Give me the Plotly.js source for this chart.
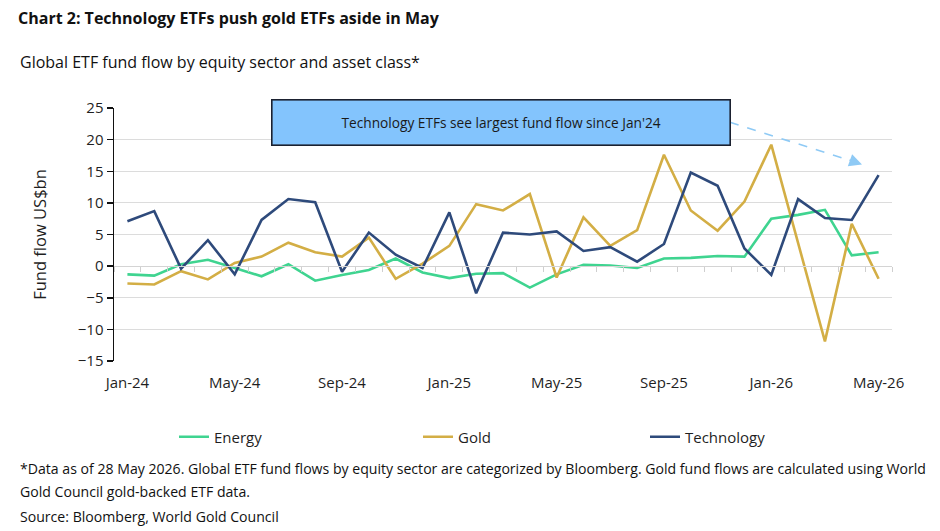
<!DOCTYPE html>
<html>
<head>
<meta charset="utf-8">
<script src="https://cdn.plot.ly/plotly-3.0.1.min.js"></script>
<style>html,body{margin:0;padding:0;background:#fff;}#chart{width:940px;height:531px;}</style>
</head>
<body>
<div id="chart"></div>
<script>
const months = ["Jan-24","Feb-24","Mar-24","Apr-24","May-24","Jun-24","Jul-24","Aug-24","Sep-24","Oct-24","Nov-24","Dec-24",
  "Jan-25","Feb-25","Mar-25","Apr-25","May-25","Jun-25","Jul-25","Aug-25","Sep-25","Oct-25","Nov-25","Dec-25",
  "Jan-26","Feb-26","Mar-26","Apr-26","May-26"];
const energy = [-1.3,-1.5,0.3,1.0,-0.3,-1.6,0.3,-2.3,-1.4,-0.6,1.2,-1.0,-1.9,-1.2,-1.1,-3.4,-1.3,0.2,0.1,-0.3,1.2,1.3,1.6,1.5,7.5,8.1,8.9,1.7,2.2];
const gold = [-2.75,-2.9,-0.8,-2.1,0.5,1.5,3.7,2.2,1.5,4.5,-2.0,0.4,3.2,9.8,8.8,11.4,-1.8,7.7,3.2,5.7,17.6,8.8,5.6,10.2,19.2,3.7,-11.9,6.7,-2.0];
const technology = [7.1,8.7,-0.4,4.1,-1.3,7.3,10.6,10.1,-0.9,5.3,1.8,-0.3,8.5,-4.3,5.3,5.0,5.5,2.4,3.0,0.7,3.5,14.8,12.7,2.8,-1.4,10.6,7.6,7.3,14.4];
const yTicks = [-15,-10,-5,0,5,10,15,20,25];
const xTickLabels = months.filter((m,i)=>i%4===0);

const yMin = -15, yMax = 25;
const FONT = "Open Sans, Noto Sans, sans-serif";
const TXT = "#1f1f1f";

const traces = [
  {x: months, y: energy, name: "Energy", type: "scatter", mode: "lines", line: {color: "#3fd490", width: 2.6}, legend: "legend"},
  {x: months, y: gold, name: "Gold", type: "scatter", mode: "lines", line: {color: "#d3ae45", width: 2.6}, legend: "legend2"},
  {x: months, y: technology, name: "Technology", type: "scatter", mode: "lines", line: {color: "#2e4a7b", width: 2.6}, legend: "legend3"},
  {x: months, y: energy, xaxis: "x2", type: "scatter", mode: "lines", line: {color: "rgba(0,0,0,0)", width: 0}, showlegend: false, hoverinfo: "skip"}
];

const px = v => (v - 114) / 778;
const py = v => (361 - v) / 253;

const legendBase = {
  orientation: "h", xanchor: "left", y: py(437), yanchor: "middle",
  font: {family: FONT, size: 15, color: TXT}, bgcolor: "rgba(0,0,0,0)"
};

const layout = {
  width: 940, height: 531,
  margin: {l: 114, r: 48, t: 108, b: 170},
  paper_bgcolor: "#fff", plot_bgcolor: "#fff",
  font: {family: FONT, color: TXT},
  showlegend: true,
  title: {
    text: "<b>Chart 2: Technology ETFs push gold ETFs aside in May</b>",
    font: {family: FONT, size: 16, color: "#111"},
    x: 18/940, xref: "container", xanchor: "left",
    y: 1 - 18/531, yref: "container", yanchor: "middle"
  },
  xaxis: {
    type: "category", range: [-0.5, months.length - 0.5],
    tickmode: "array", tickvals: xTickLabels, ticktext: xTickLabels,
    ticks: "outside", ticklen: 8, tickcolor: "rgba(0,0,0,0)",
    showgrid: false, showline: false, zeroline: false,
    tickfont: {family: FONT, size: 15, color: TXT}
  },
  xaxis2: {
    type: "category", overlaying: "x", anchor: "free",
    position: (0 - yMin) / (yMax - yMin),
    range: [-0.5, months.length - 0.5],
    showline: true, linecolor: "#d4d4d4", linewidth: 1,
    ticks: "outside", tickson: "boundaries", ticklen: 5, tickcolor: "#cfcfcf", tickwidth: 1,
    showticklabels: false, showgrid: false, zeroline: false
  },
  yaxis: {
    range: [yMin, yMax], tickmode: "array", tickvals: yTicks,
    showgrid: true, gridcolor: "#dcdcdc", gridwidth: 1, zeroline: false,
    showline: true, linecolor: "#111", linewidth: 1.5,
    ticks: "outside", ticklen: 6, tickcolor: "#111", tickwidth: 1.5,
    tickfont: {family: FONT, size: 15, color: TXT},
    title: {text: "Fund flow US$bn", font: {family: FONT, size: 16.5, color: TXT}, standoff: 27}
  },
  legend: Object.assign({}, legendBase, {x: px(174)}),
  legend2: Object.assign({}, legendBase, {x: px(418)}),
  legend3: Object.assign({}, legendBase, {x: px(645)}),
  shapes: [
    {type: "line", xref: "paper", yref: "paper", x0: px(730), y0: py(122.3), x1: px(855), y1: py(162),
     line: {color: "#8fcaf5", width: 1.6, dash: "dash"}}
  ],
  annotations: [
    {text: "Global ETF fund flow by equity sector and asset class*", xref: "paper", yref: "paper",
     x: px(18), y: py(62), xanchor: "left", yanchor: "middle", showarrow: false,
     font: {family: FONT, size: 16, color: "#111"}},
    {text: "Technology ETFs see largest fund flow since Jan'24", xref: "paper", yref: "paper",
     x: px(500.5), y: py(122), xanchor: "center", yanchor: "middle", showarrow: false,
     width: 457, height: 44, bgcolor: "#83c4fd", bordercolor: "#1b2130", borderwidth: 1.6, borderpad: 0,
     font: {family: FONT, size: 13.7, color: "#1a1a1a"}},
    {text: "", xref: "paper", yref: "paper", x: px(862), y: py(164.5), ax: -14, ay: -5,
     showarrow: true, arrowhead: 2, arrowsize: 1.6, arrowwidth: 1.6, arrowcolor: "#8fcaf5"},
    {text: "*Data as of 28 May 2026. Global ETF fund flows by equity sector are categorized by Bloomberg. Gold fund flows are calculated using World",
     xref: "paper", yref: "paper", x: px(18), y: py(468), xanchor: "left", yanchor: "middle", showarrow: false,
     font: {family: FONT, size: 14.1, color: "#111"}},
    {text: "Gold Council gold-backed ETF data.",
     xref: "paper", yref: "paper", x: px(18), y: py(491), xanchor: "left", yanchor: "middle", showarrow: false,
     font: {family: FONT, size: 14.1, color: "#111"}},
    {text: "Source: Bloomberg, World Gold Council",
     xref: "paper", yref: "paper", x: px(18), y: py(516), xanchor: "left", yanchor: "middle", showarrow: false,
     font: {family: FONT, size: 14.1, color: "#111"}}
  ]
};

Plotly.newPlot("chart", traces, layout, {displayModeBar: false, staticPlot: true});
</script>
</body>
</html>
